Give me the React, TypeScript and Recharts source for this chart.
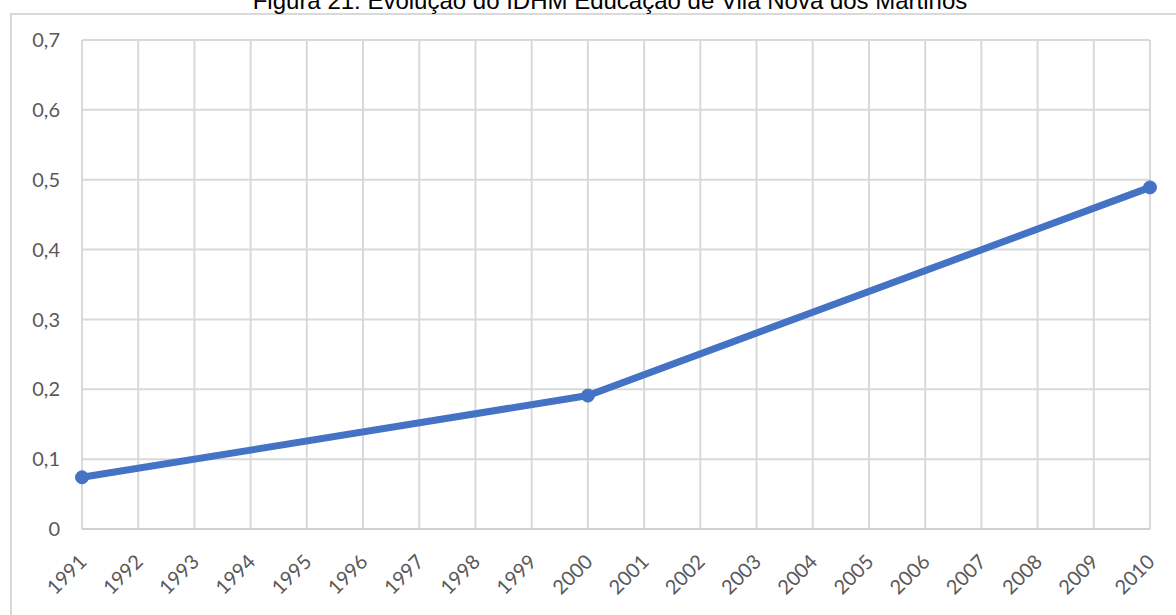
import { LineChart, Line, XAxis, YAxis, CartesianGrid } from 'recharts'

const YEARS = ['1991', '1992', '1993', '1994', '1995', '1996', '1997', '1998', '1999', '2000',
  '2001', '2002', '2003', '2004', '2005', '2006', '2007', '2008', '2009', '2010']
// IDHM Educação, only the census years have values
const CENSUS_YEARS = ['1991', '2000', '2010']
const IDHM_EDU = [0.074, 0.191, 0.489]
const Y_TICKS = [0, 0.1, 0.2, 0.3, 0.4, 0.5, 0.6, 0.7]

const TITLE = 'Figura 21: Evolução do IDHM Educação de Vila Nova dos Martinos'

const chartData = YEARS.map(year => {
  const i = CENSUS_YEARS.indexOf(year)
  return { year, idhm: i >= 0 ? IDHM_EDU[i] : null }
})

const fmtTick = (v: number) => (v === 0 ? '0' : v.toFixed(1).replace('.', ','))

function YearTick({ x = 0, y = 0, payload }: { x?: number; y?: number; payload?: { value: string } }) {
  return (
    <g transform={`translate(${x + 6},${y + 26}) rotate(-45)`}>
      <text x={0} y={0} textAnchor="end" fill="#595959" fontSize={20} fontFamily="Lato, 'Open Sans', sans-serif">
        {payload?.value}
      </text>
    </g>
  )
}

export default function App() {
  return (
    <div style={{ position: 'absolute', left: 0, top: 0, width: 1176, height: 615, background: '#fff', overflow: 'hidden' }}>
      <div style={{ position: 'absolute', left: 10, top: 13, width: 1200, height: 700, borderLeft: '2px solid #d9d9d9', borderTop: '2px solid #d9d9d9' }} />
      <div style={{ position: 'absolute', left: 0, width: 1220, top: -13, textAlign: 'center', fontFamily: "'Liberation Sans', Arial, sans-serif", fontSize: 24, color: '#000' }}>
        {TITLE}
      </div>
      <div style={{ position: 'absolute', left: 0, top: 0 }}>
        <LineChart width={1176} height={615} data={chartData} margin={{ top: 40, right: 26, bottom: 0, left: 0 }}>
          <CartesianGrid stroke="#d9d9d9" strokeWidth={2} />
          <XAxis dataKey="year" interval={0} tickLine={false} axisLine={{ stroke: '#d0d0d0', strokeWidth: 2 }}
            tick={<YearTick />} height={86} />
          <YAxis type="number" domain={[0, 0.7]} ticks={Y_TICKS} tickFormatter={fmtTick} width={82}
            axisLine={false} tickLine={false} tickSize={0} tickMargin={22}
            tick={{ fill: '#595959', fontSize: 20, fontFamily: "Lato, 'Open Sans', sans-serif" }} />
          <Line type="linear" dataKey="idhm" stroke="#4472C4" strokeWidth={7} connectNulls
            dot={{ r: 6.5, fill: '#4472C4', stroke: '#4472C4', strokeWidth: 1 }} isAnimationActive={false} />
        </LineChart>
      </div>
    </div>
  )
}
